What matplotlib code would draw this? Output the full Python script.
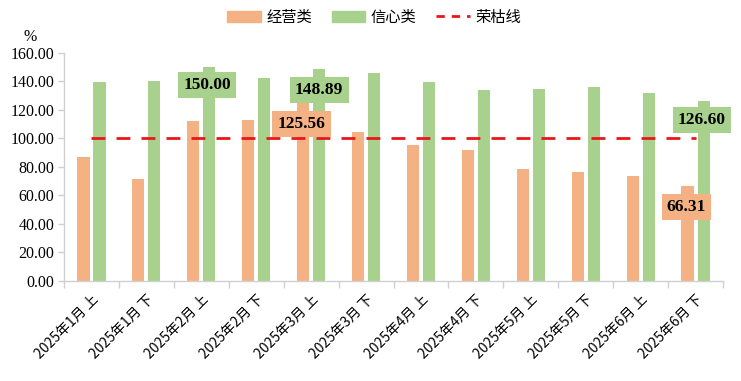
import matplotlib
matplotlib.use("Agg")
import matplotlib.pyplot as plt
import numpy as np
from matplotlib.patches import Patch
from matplotlib.lines import Line2D

plt.rcParams['font.family'] = ['Noto Sans CJK SC', 'DejaVu Sans']

categories = ["2025年1月 上", "2025年1月 下", "2025年2月 上", "2025年2月 下",
              "2025年3月 上", "2025年3月 下", "2025年4月 上", "2025年4月 下",
              "2025年5月 上", "2025年5月 下", "2025年6月 上", "2025年6月 下"]
operating = [87.2, 71.6, 112.3, 113.0, 125.56, 104.6, 95.4, 91.9, 78.6, 76.5, 73.7, 66.31]
confidence = [139.6, 140.4, 150.00, 142.5, 148.89, 146.0, 139.6, 134.0, 134.7, 136.1, 131.9, 126.60]
threshold = 100.0
yticks = [0, 20, 40, 60, 80, 100, 120, 140, 160]

c_orange = "#F4B183"
c_green = "#A9D18E"
c_red = "#E8171B"

fig = plt.figure(figsize=(7.41, 3.81), dpi=100)
ax = fig.add_axes([0.0864, 0.2625, 0.8893, 0.5985])

x = np.arange(len(categories))
w = 0.22
off = 0.146
ax.bar(x - off, operating, width=w, color=c_orange, zorder=2)
ax.bar(x + off, confidence, width=w, color=c_green, zorder=2)
ax.plot([x[0], x[-1]], [threshold, threshold], color=c_red, lw=2,
        dashes=(5, 4), zorder=3)

ax.set_xlim(-0.5, len(categories) - 0.5)
ax.set_ylim(0, 160)
ax.set_yticks(yticks)
ax.set_yticklabels([f"{v:.2f}" for v in yticks],
                   family=['Liberation Serif'], fontsize=11.5)
ax.set_xticks(x)
ax.set_xticklabels(categories, rotation=45, ha='right', rotation_mode='anchor',
                   fontsize=10)
ax.tick_params(axis='x', length=0, pad=8)
ax.set_xticks(np.arange(-0.5, len(categories) + 0.5, 1), minor=True)
ax.tick_params(axis='x', which='minor', length=5, color='#D0D0D0', width=1)
ax.tick_params(axis='y', length=4, color='#D0D0D0', width=1, pad=3)

for s in ['top', 'right']:
    ax.spines[s].set_visible(False)
for s in ['left', 'bottom']:
    ax.spines[s].set_color('#D0D0D0')
    ax.spines[s].set_linewidth(1)

ax.text(-0.052, 1.07, "%", transform=ax.transAxes, fontsize=11.5,
        family=['Liberation Serif'], ha='center', va='center')

# annotations
def box(xp, yp, val, col):
    ax.text(xp, yp, f"{val:.2f}", ha='center', va='center', fontsize=12.5,
            fontweight='bold', family=['Liberation Serif'], zorder=5,
            bbox=dict(boxstyle='square,pad=0.3', fc=col, ec='none'))

box(x[2] + off - 0.04, 137.5, confidence[2], c_green)
box(x[4] + off, 134, confidence[4], c_green)
box(x[4] - off - 0.03, 110, operating[4], c_orange)
box(x[11] + off - 0.03, 113, confidence[11], c_green)
box(x[11] - off - 0.02, 52, operating[11], c_orange)

handles = [Patch(color=c_orange, label="经营类"),
           Patch(color=c_green, label="信心类"),
           Line2D([0], [0], color=c_red, lw=2, dashes=(3, 2.5), label="荣枯线")]
fig.legend(handles=handles, loc='center', bbox_to_anchor=(0.505, 0.955), ncol=3,
           frameon=False, fontsize=11, handlelength=2.2, handleheight=0.7,
           handletextpad=0.35, columnspacing=1.3)

fig.savefig("out.png", dpi=100)
